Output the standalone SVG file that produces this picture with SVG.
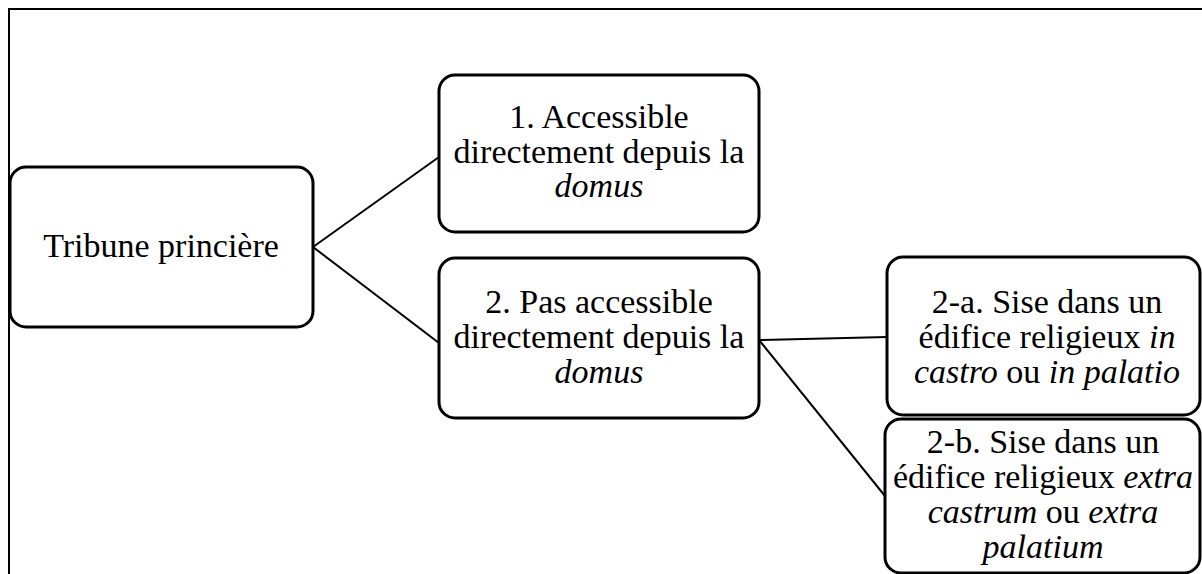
<svg xmlns="http://www.w3.org/2000/svg" width="1202" height="574" viewBox="0 0 1202 574">
<style>
.box{fill:#fff;stroke:#000;stroke-width:3}
.t{font-family:"Liberation Serif","Times New Roman",serif;font-size:34px;fill:#000;text-anchor:middle}
.i{font-style:italic}
.c{stroke:#000;stroke-width:2;fill:none}
</style>
<rect x="0" y="0" width="1202" height="574" fill="#fff"/>
<rect x="9" y="9" width="1210" height="600" fill="none" stroke="#000" stroke-width="2"/>
<g id="connectors">
<line class="c" x1="313" y1="247" x2="439" y2="157"/>
<line class="c" x1="313" y1="247" x2="439" y2="343"/>
<line class="c" x1="759" y1="340" x2="887" y2="337"/>
<line class="c" x1="759" y1="340" x2="885" y2="496"/>
</g>
<g id="tribune">
<rect class="box" x="10" y="167" width="303" height="160" rx="16"/>
<text class="t" x="161" y="257">Tribune princière</text>
</g>
<g id="n1">
<rect class="box" x="439" y="75" width="320" height="157" rx="16"/>
<text class="t" x="599" y="128">1. Accessible</text>
<text class="t" x="599" y="163">directement depuis la</text>
<text class="t" x="599" y="197"><tspan class="i">domus</tspan></text>
</g>
<g id="n2">
<rect class="box" x="439" y="258" width="320" height="160" rx="16"/>
<text class="t" x="599" y="313">2. Pas accessible</text>
<text class="t" x="599" y="348">directement depuis la</text>
<text class="t" x="599" y="383"><tspan class="i">domus</tspan></text>
</g>
<g id="n2a">
<rect class="box" x="887" y="257" width="313" height="158" rx="16"/>
<text class="t" x="1047" y="313">2-a. Sise dans un</text>
<text class="t" x="1047" y="348">édifice religieux <tspan class="i">in</tspan></text>
<text class="t" x="1047" y="383"><tspan class="i">castro</tspan> ou <tspan class="i">in palatio</tspan></text>
</g>
<g id="n2b">
<rect class="box" x="885" y="419" width="315" height="154" rx="16"/>
<text class="t" x="1043" y="453">2-b. Sise dans un</text>
<text class="t" x="1043" y="488">édifice religieux <tspan class="i">extra</tspan></text>
<text class="t" x="1043" y="523"><tspan class="i">castrum</tspan> ou <tspan class="i">extra</tspan></text>
<text class="t" x="1043" y="558"><tspan class="i">palatium</tspan></text>
</g>
</svg>
